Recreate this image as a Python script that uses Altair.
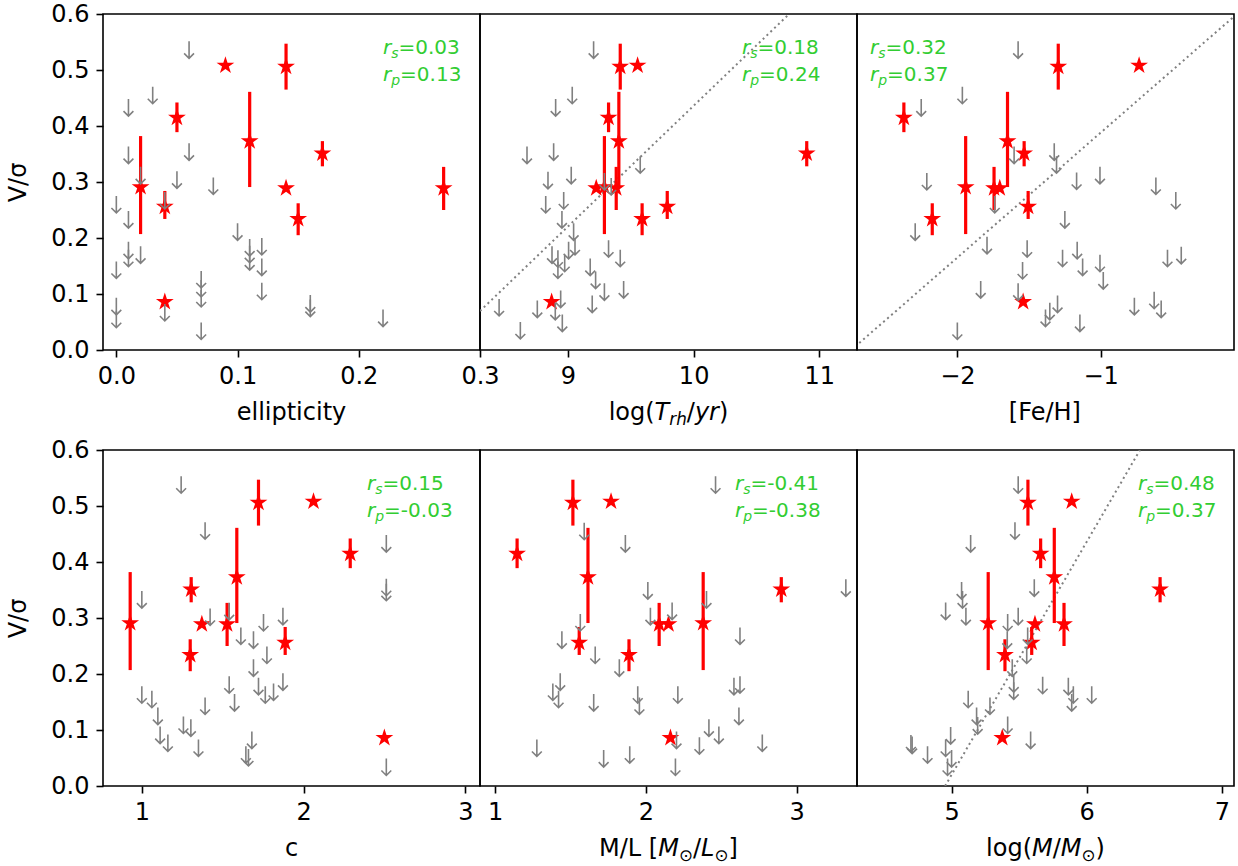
import altair as alt
import pandas as pd

# ---------------- data ----------------
# red stars (objects A..K), V/sigma and its error bar
V_STAR = [0.291, 0.256, 0.415, 0.508, 0.373, 0.506, 0.289, 0.234, 0.351, 0.289, 0.086]
V_LO = [0.207, 0.234, 0.389, None, 0.291, 0.465, None, 0.205, 0.328, 0.250, None]
V_HI = [0.382, 0.284, 0.442, None, 0.461, 0.547, None, 0.262, 0.373, 0.327, None]

STAR_ELL = [0.02, 0.04, 0.05, 0.09, 0.11, 0.14, 0.14, 0.15, 0.17, 0.27, 0.04]
STAR_TRH = [9.29, 9.79, 9.323, 9.554, 9.405, 9.416, 9.225, 9.59, 10.90, 9.384, 8.87]
STAR_FEH = [-1.942, -1.506, -2.373, -0.732, -1.65, -1.296, -1.704, -2.175, -1.534, -1.744, -1.541]
STAR_C = [0.928, 1.886, 2.288, 2.061, 1.587, 1.721, 1.371, 1.299, 1.305, 1.527, 2.499]
STAR_ML = [2.380, 1.558, 1.146, 1.769, 1.616, 1.516, 2.150, 1.888, 2.898, 2.088, 2.163]
STAR_LOGM = [5.271, 5.593, 5.659, 5.889, 5.760, 5.565, 5.617, 5.395, 6.543, 5.832, 5.375]

# grey upper limits, per panel
UL_ELL_X = [0.06, 0.03, 0.01, 0.01, 0.06, 0.02, 0.05, 0.08, 0.00, 0.04, 0.01, 0.10, 0.01, 0.01,
            0.02, 0.11, 0.11, 0.11, 0.12, 0.12, 0.00, 0.07, 0.07, 0.07, 0.12, 0.00, 0.00, 0.04,
            0.07, 0.16, 0.16, 0.22]
UL_ELL_V = [0.536, 0.455, 0.433, 0.348, 0.354, 0.312, 0.304, 0.293, 0.260, 0.267, 0.233, 0.211,
            0.178, 0.164, 0.170, 0.183, 0.171, 0.158, 0.185, 0.148, 0.143, 0.126, 0.110, 0.092,
            0.105, 0.078, 0.055, 0.067, 0.034, 0.083, 0.075, 0.057]

UL_TRH_X = [9.204, 9.034, 8.902, 8.674, 8.886, 9.575, 9.026, 8.841, 9.29, 9.344, 8.823, 8.966,
            8.952, 9.045, 9.056, 8.873, 8.92, 8.974, 9.005, 8.92, 9.177, 9.323, 9.416, 9.22,
            9.29, 9.443, 9.193, 8.942, 8.899, 8.955, 8.756, 8.452, 8.621]
UL_TRH_V = [0.536, 0.455, 0.433, 0.348, 0.354, 0.331, 0.312, 0.303, 0.301, 0.292, 0.260, 0.267,
            0.233, 0.211, 0.185, 0.170, 0.163, 0.155, 0.178, 0.143, 0.148, 0.181, 0.164, 0.125,
            0.104, 0.108, 0.082, 0.091, 0.069, 0.048, 0.073, 0.076, 0.035]

UL_FEH_X = [-1.576, -1.965, -2.252, -1.324, -1.604, -1.308, -1.168, -1.005, -0.615, -2.213,
            -1.739, -0.476, -1.25, -2.294, -1.793, -1.513, -1.164, -1.266, -0.534, -0.438,
            -1.126, -1.005, -0.982, -1.545, -1.837, -1.576, -1.301, -1.355, -1.385, -1.145,
            -0.765, -0.627, -0.578, -2.0]
UL_FEH_V = [0.536, 0.455, 0.433, 0.354, 0.348, 0.331, 0.302, 0.312, 0.293, 0.301, 0.260, 0.267,
            0.233, 0.211, 0.187, 0.181, 0.178, 0.164, 0.164, 0.169, 0.148, 0.155, 0.124, 0.142,
            0.108, 0.104, 0.082, 0.069, 0.057, 0.048, 0.078, 0.089, 0.073, 0.034]

UL_C_X = [1.243, 1.391, 2.511, 2.511, 2.511, 1.0, 1.422, 1.54, 1.752, 1.872, 1.612, 1.69,
          1.773, 1.69, 1.54, 1.721, 1.763, 1.814, 1.872, 1.0, 1.062, 1.391, 1.573, 1.099,
          1.257, 1.303, 1.113, 1.161, 1.35, 1.68, 1.643, 1.659, 2.511]
UL_C_V = [0.538, 0.456, 0.433, 0.355, 0.346, 0.333, 0.302, 0.312, 0.292, 0.303, 0.268, 0.261,
          0.234, 0.211, 0.181, 0.178, 0.163, 0.168, 0.186, 0.163, 0.155, 0.143, 0.149, 0.125,
          0.109, 0.104, 0.091, 0.077, 0.068, 0.082, 0.056, 0.051, 0.034]

UL_ML_X = [2.462, 1.591, 1.864, 2.013, 3.326, 2.402, 2.03, 2.174, 1.565, 2.624, 1.443, 1.664,
           1.824, 1.432, 1.383, 1.421, 1.946, 1.957, 1.654, 2.212, 2.584, 2.624, 2.617, 2.418,
           2.484, 2.203, 2.355, 2.772, 1.277, 1.72, 1.893, 2.196]
UL_ML_V = [0.538, 0.455, 0.433, 0.349, 0.354, 0.333, 0.303, 0.3125, 0.292, 0.268, 0.261, 0.234,
           0.211, 0.186, 0.168, 0.155, 0.163, 0.143, 0.149, 0.163, 0.178, 0.181, 0.125, 0.104,
           0.091, 0.082, 0.072, 0.077, 0.068, 0.049, 0.056, 0.034]

UL_LOGM_X = [5.493, 5.469, 5.141, 5.074, 5.081, 4.956, 5.106, 5.612, 5.493, 5.415, 5.563,
             5.412, 5.556, 5.449, 5.674, 5.46, 5.46, 5.864, 5.901, 5.889, 6.037, 5.123, 5.284,
             5.185, 5.193, 5.415, 4.993, 4.699, 4.708, 4.822, 4.956, 5.585, 5.0, 4.970]
UL_LOGM_V = [0.538, 0.456, 0.433, 0.349, 0.333, 0.3125, 0.303, 0.354, 0.303, 0.292, 0.268,
             0.261, 0.234, 0.211, 0.180, 0.183, 0.170, 0.178, 0.163, 0.149, 0.163, 0.155, 0.143,
             0.125, 0.108, 0.109, 0.090, 0.076, 0.073, 0.056, 0.068, 0.082, 0.049, 0.034]

# dotted trend lines (end points)
LINE_TRH_X = [8.30, 10.76]
LINE_TRH_V = [0.0696, 0.60]
LINE_FEH_X = [-2.74, -0.05]
LINE_FEH_V = [0.0, 0.60]
LINE_LOGM_X = [4.952, 6.394]
LINE_LOGM_V = [0.0, 0.60]

RS = ["0.03", "0.18", "0.32", "0.15", "-0.41", "0.48"]
RP = ["0.13", "0.24", "0.37", "-0.03", "-0.38", "0.37"]

# ---------------- styling ----------------
W, H = 377, 336
FS = 24           # tick labels / axis titles
FS_STAT = 20      # green statistics
FONT = "DejaVu Sans"
GREEN = "#32cd32"
STAR = ("M0,-1 L0.2245,-0.309 L0.9511,-0.309 L0.3633,0.118 L0.5878,0.809 L0,0.382 "
        "L-0.5878,0.809 L-0.3633,0.118 L-0.9511,-0.309 L-0.2245,-0.309 Z")
ARROW = "M0,-1 L0,1 M-0.58,0.42 L0,1 L0.58,0.42"

EM = {'0': .636, '1': .636, '2': .636, '3': .636, '4': .636, '5': .636, '6': .636, '7': .636,
      '8': .636, '9': .636, '.': .318, '=': .838, '-': .361, 'r': .411, 's': .521, 'p': .635,
      'l': .278, 'o': .612, 'g': .635, '(': .390, ')': .390, 'T': .611, 'h': .634, '/': .337,
      'y': .592, 'e': .615, 'i': .278, 't': .392, 'c': .550, '[': .390, ']': .390, 'F': .575,
      'H': .752, 'M': .863, 'L': .557, ' ': .318, '⊙': .838}

ONE = pd.DataFrame({"k": [0]})


def text_w(t, fs):
    return sum(EM.get(ch, 0.6) for ch in t) * fs


def rich(segs, baseline, fs, color="black", x_left=None, x_center=None):
    """segs: (text, italic, subscript)"""
    ws = [text_w(t, fs * (0.7 if sub else 1.0)) for t, it, sub in segs]
    x = x_left if x_left is not None else x_center - sum(ws) / 2.0
    out = []
    for (t, it, sub), w in zip(segs, ws):
        out.append(
            alt.Chart(ONE).mark_text(
                text=t, align="left", baseline="alphabetic", font=FONT,
                fontSize=fs * (0.7 if sub else 1.0),
                fontStyle="italic" if it else "normal", color=color,
            ).encode(x=alt.value(float(x)), y=alt.value(float(baseline + (0.2 * fs if sub else 0))))
        )
        x += w
    return out


def panel(star_x, ul_x, ul_v, domain, ticks, fmt, first, line, rs, rp, stat_left, title):
    xsc = alt.Scale(domain=domain, nice=False, zero=False)
    ysc = alt.Scale(domain=[0, 0.6], nice=False, zero=False)
    xax = alt.Axis(values=ticks, format=fmt, title=None, grid=False, domain=False,
                   ticks=True, tickSize=7, tickWidth=1.6, tickColor="black",
                   labelFontSize=FS, labelFont=FONT, labelColor="black", labelPadding=7,
                   labelFlush=False, labelOverlap=False)
    if first:
        yax = alt.Axis(values=[0, 0.1, 0.2, 0.3, 0.4, 0.5, 0.6], format=".1f", title="V/σ",
                       grid=False, domain=False, tickSize=7, tickWidth=1.6, tickColor="black",
                       labelFontSize=FS, labelFont=FONT, labelColor="black", labelPadding=7,
                       labelFlush=False, labelOverlap=False, titleFont=FONT, titleFontSize=FS,
                       titleFontWeight="normal", titleColor="black", titlePadding=20)
    else:
        yax = None

    stars = pd.DataFrame({"x": star_x, "v": V_STAR, "lo": V_LO, "hi": V_HI})
    ul = pd.DataFrame({"x": ul_x, "v": ul_v})

    layers = []
    if line is not None:
        ld = pd.DataFrame({"x": line[0], "v": line[1]})
        layers.append(
            alt.Chart(ld).mark_line(color="grey", strokeWidth=2, strokeDash=[2, 3.3], clip=True)
            .encode(x=alt.X("x:Q", scale=xsc, axis=xax), y=alt.Y("v:Q", scale=ysc, axis=yax))
        )
    layers.append(
        alt.Chart(stars.dropna()).mark_rule(color="red", strokeWidth=3.2)
        .encode(x=alt.X("x:Q", scale=xsc, axis=xax), y=alt.Y("lo:Q", scale=ysc, axis=yax),
                y2="hi:Q")
    )
    layers.append(
        alt.Chart(stars).mark_point(shape=STAR, size=350, filled=True, color="red", opacity=1)
        .encode(x=alt.X("x:Q", scale=xsc, axis=xax), y=alt.Y("v:Q", scale=ysc, axis=yax))
    )
    layers.append(
        alt.Chart(ul).mark_point(shape=ARROW, size=289, filled=False, color="grey",
                                 strokeWidth=1.6, opacity=1)
        .encode(x=alt.X("x:Q", scale=xsc, axis=xax), y=alt.Y("v:Q", scale=ysc, axis=yax))
    )
    # statistics
    layers += rich([("r", True, False), ("s", True, True), ("=" + rs, False, False)],
                   baseline=40, fs=FS_STAT, color=GREEN, x_left=stat_left)
    layers += rich([("r", True, False), ("p", True, True), ("=" + rp, False, False)],
                   baseline=67, fs=FS_STAT, color=GREEN, x_left=stat_left)
    # x title
    layers += rich(title, baseline=H + 70, fs=FS, x_center=W / 2.0)
    return alt.layer(*layers).properties(width=W, height=H)


N = False
I = True
p1 = panel(STAR_ELL, UL_ELL_X, UL_ELL_V, [-0.011, 0.3], [0, 0.1, 0.2, 0.3], ".1f", True, None,
           RS[0], RP[0], 280, [("ellipticity", N, N)])
p2 = panel(STAR_TRH, UL_TRH_X, UL_TRH_V, [8.3, 11.3], [9, 10, 11], "d", False,
           (LINE_TRH_X, LINE_TRH_V), RS[1], RP[1], 262,
           [("log(", N, N), ("T", I, N), ("rh", I, I), ("/", N, N), ("yr", I, N), (")", N, N)])
p3 = panel(STAR_FEH, UL_FEH_X, UL_FEH_V, [-2.7, -0.07], [-2, -1], "d", False,
           (LINE_FEH_X, LINE_FEH_V), RS[2], RP[2], 13, [("[Fe/H]", N, N)])
p4 = panel(STAR_C, UL_C_X, UL_C_V, [0.76, 3.09], [1, 2, 3], "d", True, None,
           RS[3], RP[3], 264, [("c", N, N)])
p5 = panel(STAR_ML, UL_ML_X, UL_ML_V, [0.9, 3.4], [1, 2, 3], "d", False, None,
           RS[4], RP[4], 255,
           [("M/L [", N, N), ("M", I, N), ("⊙", N, I), ("/", N, N), ("L", I, N), ("⊙", N, I),
            ("]", N, N)])
p6 = panel(STAR_LOGM, UL_LOGM_X, UL_LOGM_V, [4.3, 7.09], [5, 6, 7], "d", False,
           (LINE_LOGM_X, LINE_LOGM_V), RS[5], RP[5], 281,
           [("log(", N, N), ("M", I, N), ("/", N, N), ("M", I, N), ("⊙", N, I), (")", N, N)])

row1 = alt.hconcat(p1, p2, p3, spacing=0, bounds="flush")
row2 = alt.hconcat(p4, p5, p6, spacing=0, bounds="flush")
chart = (
    alt.vconcat(row1, row2, spacing=7)
    .configure_view(stroke="black", strokeWidth=1.6)
    .properties(padding={"left": 6, "top": 1, "right": 2, "bottom": 2}, background="white")
)
chart.save("out.html", embed_options={"renderer": "svg", "actions": False})
